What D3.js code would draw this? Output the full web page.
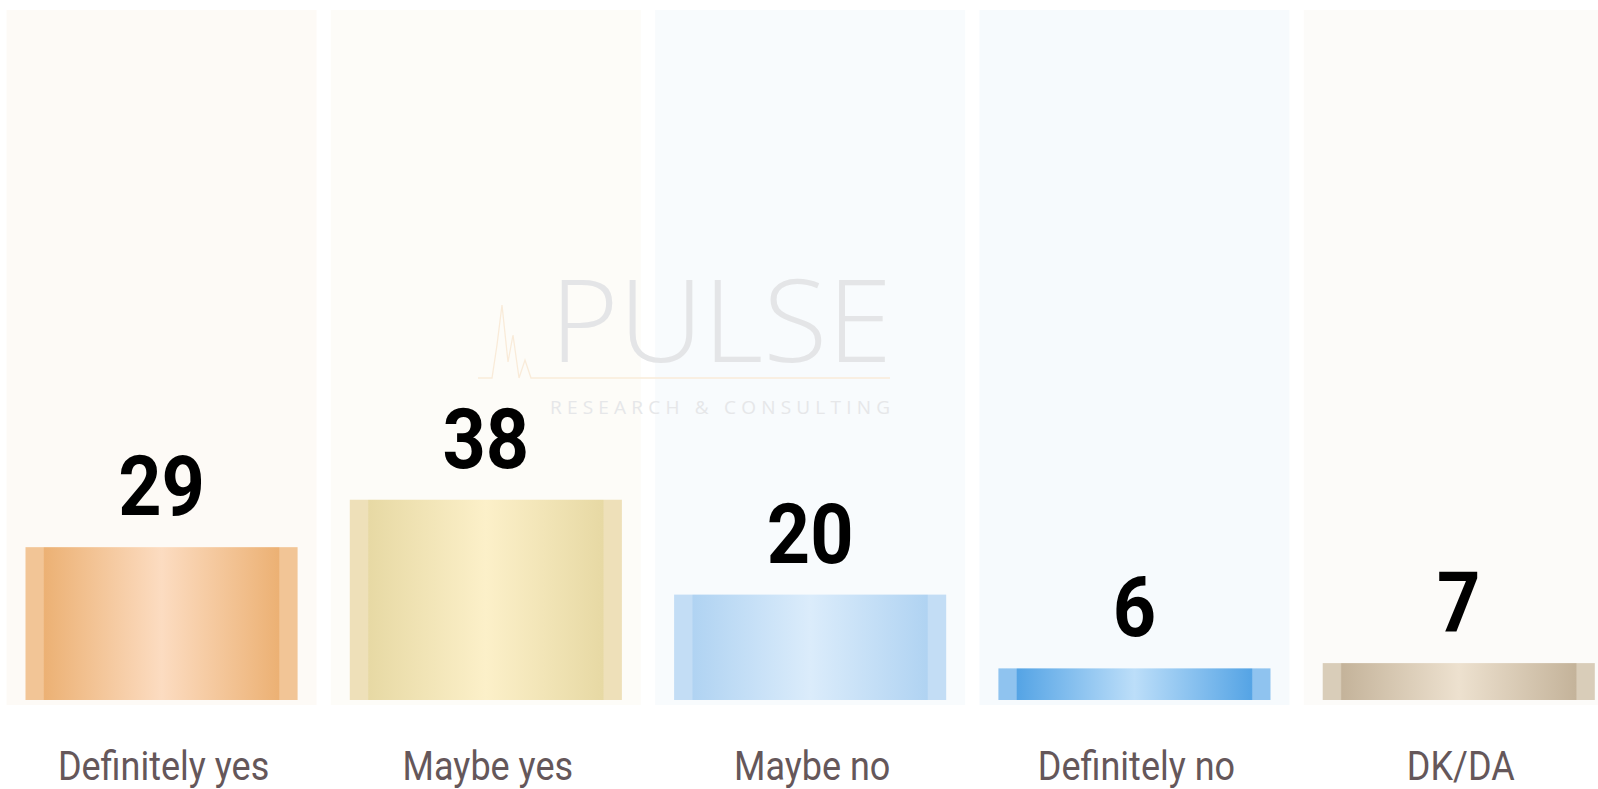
<!DOCTYPE html>
<html>
<head>
<meta charset="utf-8">
<script src="https://cdn.jsdelivr.net/npm/d3@7"></script>
<style>
  html, body { margin: 0; padding: 0; background: #ffffff; overflow: hidden; }
  svg { display: block; }
</style>
</head>
<body>
<svg id="chart" width="1598" height="789"></svg>
<script>
// ---- data ----
const categories = ["Definitely yes", "Maybe yes", "Maybe no", "Definitely no", "DK/DA"];
const values = [29, 38, 20, 6, 7];
// gradient colours per bar: [edge, dark band, centre]
const barEdge   = ["#f2c596", "#eee0b9", "#c3ddf5", "#8fc3ef", "#d9cdb9"];
const barDark   = ["#ecb174", "#e7d9a4", "#b0d3f2", "#55a4e5", "#c4b39a"];
const barCenter = ["#fcdcc1", "#fcf0c9", "#dbecfb", "#bcdef9", "#ede1cf"];
const columnBg  = ["#fdfaf6", "#fdfcf8", "#f8fbfd", "#f6fafd", "#fcfbf9"];

const svg = d3.select("#chart");

const x = d3.scaleBand().domain(categories).range([25.5, 1594.8]).paddingInner(0.161).paddingOuter(0);
const y = d3.scaleLinear().domain([0, 100]).range([700, 173]);

// gradients
const defs = svg.append("defs");
categories.forEach((c, i) => {
  const g = defs.append("linearGradient").attr("id", "g" + i)
    .attr("x1", "0%").attr("x2", "100%").attr("y1", "0%").attr("y2", "0%");
  const stops = [
    [0, barEdge[i]], [0.065, barEdge[i]], [0.07, barDark[i]],
    [0.5, barCenter[i]],
    [0.93, barDark[i]], [0.935, barEdge[i]], [1, barEdge[i]]
  ];
  stops.forEach(s => g.append("stop").attr("offset", (s[0] * 100) + "%").attr("stop-color", s[1]));
});

// background columns
svg.append("g").selectAll("rect").data(categories).join("rect")
  .attr("x", d => x(d) + x.bandwidth() / 2 - 155)
  .attr("y", 10)
  .attr("width", 310)
  .attr("height", 695)
  .attr("fill", (d, i) => columnBg[i]);

// watermark
const wm = svg.append("g").attr("class", "watermark");
wm.append("text")
  .attr("x", 550).attr("y", 362)
  .attr("textLength", 342).attr("lengthAdjust", "spacingAndGlyphs")
  .style("font-family", "'Open Sans', 'Lato', sans-serif")
  .style("font-weight", 300)
  .style("font-size", "114px")
  .attr("fill", "#e4e5e7")
  .text("PULSE");
wm.append("text")
  .attr("x", 550).attr("y", 414)
  .attr("textLength", 340).attr("lengthAdjust", "spacing")
  .style("font-family", "'Open Sans', sans-serif")
  .style("font-size", "19px")
  .attr("fill", "#e6e7e9")
  .text("RESEARCH & CONSULTING");
wm.append("path")
  .attr("d", "M478,378 L492,378 L497,345 L502,305 L508,362 L513,335 L519,378 L525,360 L531,378 L890,378")
  .attr("fill", "none").attr("stroke", "#f9ebd9").attr("stroke-width", 1.3);

// bars
svg.append("g").selectAll("rect").data(values).join("rect")
  .attr("x", (d, i) => x(categories[i]))
  .attr("y", d => y(d))
  .attr("width", x.bandwidth())
  .attr("height", d => y(0) - y(d))
  .attr("fill", (d, i) => "url(#g" + i + ")");

// value labels
svg.append("g").selectAll("text").data(values).join("text")
  .attr("transform", (d, i) => `translate(${x(categories[i]) + x.bandwidth() / 2},${y(d) - 32}) scale(0.9,1)`)
  .attr("text-anchor", "middle")
  .style("font-family", "Roboto, 'Liberation Sans', sans-serif")
  .style("font-weight", 700)
  .style("font-size", "84px")
  .attr("fill", "#000000")
  .text(d => d);

// category labels
svg.append("g").selectAll("text").data(categories).join("text")
  .attr("transform", d => `translate(${x(d) + x.bandwidth() / 2 + 2},780) scale(0.9,1)`)
  .attr("text-anchor", "middle")
  .style("font-family", "Roboto, 'Liberation Sans', sans-serif")
  .style("font-weight", 400)
  .style("font-size", "40px")
  .attr("fill", "#65575a")
  .text(d => d);
</script>
</body>
</html>
